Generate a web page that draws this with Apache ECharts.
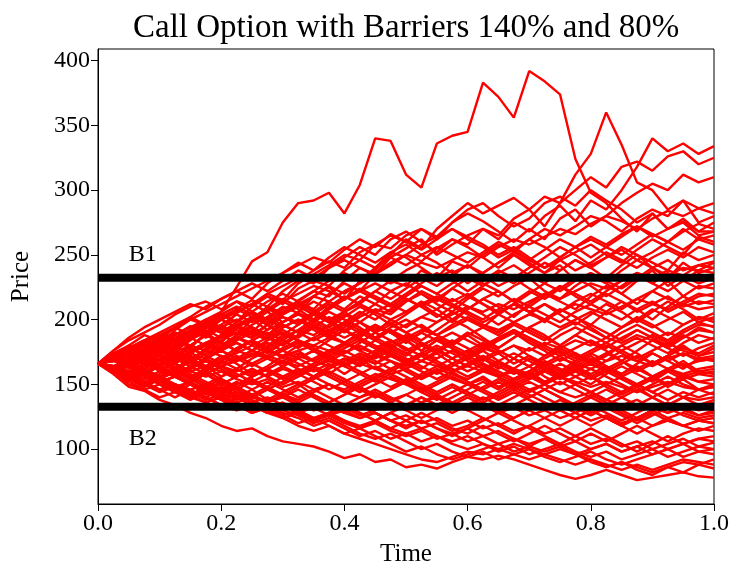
<!DOCTYPE html>
<html>
<head>
<meta charset="utf-8">
<script src="https://cdn.jsdelivr.net/npm/echarts@6/dist/echarts.min.js"></script>
<style>
html,body{margin:0;padding:0;background:#fff;}
#chart{width:734px;height:572px;}
</style>
</head>
<body>
<div id="chart"></div>
<script>
// ---- data ----
const titleText = 'Call Option with Barriers 140% and 80%';
const xLabel = 'Time';
const yLabel = 'Price';
const times = [0,0.025,0.05,0.075,0.1,0.125,0.15,0.175,0.2,0.225,
  0.25,0.275,0.3,0.325,0.35,0.375,0.4,0.425,0.45,0.475,
  0.5,0.525,0.55,0.575,0.6,0.625,0.65,0.675,0.7,0.725,
  0.75,0.775,0.8,0.825,0.85,0.875,0.9,0.925,0.95,0.975,1.0];
const xTicks = [0,0.2,0.4,0.6,0.8,1.0];
const yTicks = [100,150,200,250,300,350,400];
const barrierUpper = 232.4;
const barrierLower = 132.8;
const barrierLabels = ['B1','B2'];
const barrierLabelPos = [[0.05,240.5],[0.05,98.8]];

const p01=[166,172,168,178,185,180,192,200,206,225, 245,252,275,290,292,298,282,304,340,338, 312,302,336,342,345,383,372,356,392,384, 374,324,298,290,278,268,282,270,275,265, 268];
const p02=[166,160,168,172,165,175,180,176,188,195, 190,202,210,205,218,225,215,230,238,250, 262,255,270,280,290,282,288,294,285,272, 290,312,328,360,335,306,300,285,292,275, 280];
const p03=[166,170,176,168,180,185,178,190,196,188, 200,210,205,215,222,218,230,240,235,248, 255,262,250,258,265,270,262,275,268,280, 288,276,292,285,300,318,340,330,336,328, 334];
const p04=[166,162,170,175,168,178,185,190,182,195, 200,192,205,212,208,220,228,222,235,242, 250,245,255,262,258,270,265,278,285,295, 290,300,310,302,318,322,315,326,330,320, 325];
const p05=[166,174,170,182,178,188,195,190,200,208, 215,210,222,230,238,245,240,252,258,265, 260,270,264,275,282,276,268,260,270,262, 278,285,272,280,290,298,305,300,312,306, 310];
const p06=[166,170,165,175,182,178,190,198,192,205, 212,220,215,228,235,242,250,246,258,255, 265,270,262,275,285,290,280,272,278,290, 295,288,300,292,285,275,282,270,278,268, 275];
const p07=[166,162,158,166,172,168,176,182,178,186, 192,188,198,205,200,210,218,212,222,230, 226,238,232,245,240,250,258,252,262,270, 265,272,280,276,268,278,285,280,292,286, 290];
const p08=[166,170,178,174,184,190,186,196,204,198, 210,218,212,224,230,226,238,246,240,252, 248,240,232,238,228,236,244,250,242,236, 246,252,258,250,244,254,262,256,250,264, 260];
const p09=[166,160,164,170,176,172,168,178,184,190, 186,196,202,198,206,214,208,218,212,222, 228,220,214,224,232,226,236,242,234,228, 238,246,240,232,242,250,244,238,252,246, 250];
const p10=[166,172,178,184,180,192,200,196,206,214, 210,220,226,232,228,240,248,256,250,262, 268,260,252,262,256,248,240,250,244,236, 242,230,236,228,238,246,240,232,244,236, 240];
const p11=[166,164,158,162,170,166,174,180,176,184, 190,186,194,200,196,188,194,202,208,204, 214,220,212,206,216,224,218,226,232,222, 216,226,234,228,220,230,238,226,234,228, 232];
const p12=[166,170,162,168,160,166,174,170,178,186, 182,176,184,192,188,196,204,198,190,200, 206,212,204,198,208,216,210,202,212,220, 214,208,218,226,220,212,222,230,218,226, 224];
const p13=[166,160,166,158,164,172,168,160,168,176, 172,180,188,184,176,184,192,186,196,190, 182,190,198,206,200,194,204,212,206,198, 208,202,196,206,214,208,200,210,218,212, 215];
const p14=[166,172,168,176,184,190,186,194,200,194, 202,196,188,196,204,198,190,198,206,212, 206,214,208,200,208,216,222,214,206,212, 204,196,204,212,206,198,206,214,208,200, 205];
const p15=[166,162,156,162,154,160,168,164,156,162, 170,176,172,180,186,180,174,182,190,196, 190,184,192,200,194,186,178,186,194,200, 208,202,194,186,194,202,196,188,196,202, 198];
const p16=[166,170,176,170,178,172,180,188,182,176, 184,178,170,176,168,174,182,176,184,192, 186,180,174,182,190,184,178,186,194,188, 180,188,196,190,184,192,186,178,186,194, 190];
const p17=[166,160,168,162,156,162,170,164,172,166, 158,164,172,166,160,166,158,166,174,180, 174,168,176,184,178,170,162,170,178,172, 180,188,182,176,168,176,184,178,172,178, 182];
const p18=[166,172,178,172,180,186,192,186,194,200, 194,188,196,190,198,206,200,194,186,192, 184,176,184,178,170,176,184,190,182,176, 168,174,166,172,180,174,166,172,180,172, 175];
const p19=[166,160,154,160,152,146,152,158,150,156, 162,156,164,170,164,158,166,172,166,174, 168,162,170,176,170,164,156,162,170,164, 158,166,172,164,158,166,174,168,162,170, 168];
const p20=[166,170,164,170,176,170,164,170,176,182, 176,170,164,158,164,170,176,170,162,168, 160,154,160,166,172,166,160,154,160,168, 162,156,150,158,164,158,152,160,166,158, 160];
const p21=[166,162,168,174,168,162,156,162,168,174, 180,186,180,188,194,188,182,176,170,176, 170,164,158,164,170,176,168,162,156,150, 156,162,156,150,144,150,156,150,158,152, 154];
const p22=[166,170,176,182,188,184,192,198,204,210, 204,198,206,212,206,200,192,198,190,184, 176,182,176,170,164,170,164,158,164,156, 150,156,162,156,150,144,150,156,150,146, 148];
const p23=[166,160,154,148,154,148,142,148,154,148, 142,136,142,148,154,160,154,148,154,160, 166,160,154,160,152,146,152,146,140,146, 152,146,140,134,140,146,140,134,140,146, 142];
const p24=[166,172,166,160,166,172,178,172,166,172, 166,160,154,160,166,172,166,160,154,148, 154,148,142,148,142,136,142,148,142,136, 130,136,142,136,130,124,130,136,130,134, 136];
const p25=[166,160,166,160,154,160,154,148,142,148, 142,136,142,136,130,136,142,148,142,136, 130,124,130,136,130,124,118,124,130,124, 118,124,130,124,118,124,130,136,130,126, 130];
const p26=[166,170,164,158,164,158,152,158,164,158, 152,146,152,158,164,158,152,146,140,146, 152,146,140,134,140,134,128,134,140,146, 140,134,128,134,128,122,128,122,118,122, 124];
const p27=[166,162,156,150,156,150,144,140,146,140, 134,128,134,128,122,128,122,116,122,128, 122,116,120,114,118,124,118,112,118,124, 130,124,118,124,118,112,118,124,118,114, 118];
const p28=[166,170,164,170,164,158,164,158,152,146, 152,146,140,146,140,134,128,134,128,122, 116,122,116,110,116,122,128,122,116,110, 104,110,116,110,104,98,104,110,104,108, 110];
const p29=[166,162,158,152,146,150,144,138,142,136, 130,134,128,124,118,122,116,110,114,108, 112,106,110,104,100,104,98,102,96,100, 104,98,94,98,92,96,100,94,98,102, 100];
const p30=[166,160,150,146,150,144,140,136,140,134, 128,132,126,120,124,118,112,116,110,104, 98,102,96,92,96,100,104,98,102,108, 102,96,90,86,90,84,80,86,90,88, 92];
const p31=[166,162,156,160,154,148,152,146,140,144, 138,132,136,130,124,128,122,118,122,116, 112,116,110,106,110,104,100,104,100,96, 92,88,92,86,90,86,82,86,82,88, 85];
const p32=[166,158,148,145,138,134,128,124,118,114, 116,110,106,104,102,98,93,96,90,92, 86,88,85,90,94,92,95,92,88,84, 80,77,80,84,80,76,78,80,82,79, 78];
const p33=[166,174,180,176,186,194,200,206,212,218, 224,230,236,242,248,244,254,262,256,266, 260,254,262,270,264,258,250,256,248,240, 248,256,262,256,250,258,266,260,270,262, 265];
const p34=[166,160,166,174,180,186,180,188,196,204, 198,206,214,208,200,208,216,224,218,212, 220,228,236,230,222,230,238,232,240,248, 256,250,242,248,256,250,240,246,238,242, 245];
const p35=[166,172,180,188,184,194,202,210,216,222, 216,228,236,244,238,248,256,250,244,252, 258,250,244,236,242,234,226,232,224,218, 226,218,212,220,214,206,212,218,210,214, 212];
const p36=[166,160,154,148,154,146,140,146,152,146, 140,146,152,158,152,146,152,158,164,158, 152,158,164,170,164,170,176,170,164,172, 178,172,166,174,180,186,180,174,182,188, 185];
const p37=[166,162,154,158,150,144,150,142,148,140, 146,138,144,150,142,136,142,148,140,146, 152,144,138,144,150,156,148,154,160,152, 158,164,156,162,168,160,166,172,164,168, 170];
const p38=[166,174,170,178,186,182,190,196,190,198, 206,200,208,214,208,200,206,198,192,198, 190,196,188,182,188,180,174,180,172,166, 172,164,158,164,156,150,156,148,154,146, 150];
const p39=[166,170,176,170,164,170,176,182,176,170, 176,182,176,170,176,168,174,180,174,168, 162,168,174,166,160,166,158,152,158,150, 144,150,156,148,142,148,140,134,140,134, 138];
const p40=[166,170,164,168,162,156,162,168,162,156, 162,156,150,156,162,156,150,144,150,156, 150,144,150,156,150,144,138,144,138,132, 138,132,126,132,126,120,126,132,126,122, 120];
const p41=[166,160,164,158,152,156,150,144,148,142, 136,140,134,128,132,126,130,124,128,122, 126,120,124,118,122,116,120,114,118,112, 116,110,104,108,102,106,100,104,108,102, 105];
const p42=[166,162,168,174,168,176,170,164,170,178, 184,178,186,192,200,194,202,210,204,196, 204,212,218,212,206,200,208,216,210,218, 226,220,214,222,230,236,228,222,230,224, 228];
const p43=[166,160,154,150,144,148,142,136,140,134, 128,132,126,130,124,128,134,128,122,128, 134,140,134,140,146,152,146,154,160,166, 160,168,174,168,176,182,188,182,190,196, 195];
const p44=[166,172,168,176,172,180,186,180,188,194, 188,196,202,196,204,212,206,214,222,216, 224,232,226,234,242,236,244,252,246,254, 262,256,248,256,264,272,266,260,268,274, 270];
const p45=[166,176,184,190,196,204,210,214,208,214, 206,200,194,200,192,186,192,184,178,184, 178,172,178,170,176,168,174,166,172,164, 158,164,170,164,158,164,156,162,168,160, 162];
const p46=[166,170,176,182,176,184,190,198,204,198, 206,214,220,214,222,230,236,230,240,248, 242,250,256,250,244,252,260,254,262,256, 248,256,264,258,266,272,264,270,276,268, 268];
const p47=[166,162,170,166,174,180,174,182,188,182, 176,184,192,186,194,202,196,204,212,206, 214,222,216,224,218,226,234,228,236,244, 238,246,240,248,254,246,252,260,254,262, 258];
const p48=[166,172,166,174,182,176,184,192,186,194, 200,208,216,210,218,226,220,228,236,244, 250,258,264,270,262,256,248,254,246,240, 246,238,244,252,246,240,248,254,248,256, 252];
const p49=[166,160,166,172,178,172,166,174,180,188, 194,188,180,188,196,190,198,206,200,208, 216,210,202,210,218,212,204,212,220,228, 222,230,236,230,224,232,240,234,240,238, 244];
const p50=[166,170,174,168,176,182,188,194,200,206, 212,206,198,206,214,208,216,222,216,210, 218,226,220,228,234,228,222,214,222,216, 224,232,226,218,226,234,228,236,230,238, 236];
const p51=[166,162,158,164,170,176,170,176,182,176, 184,190,184,178,186,192,198,192,186,194, 200,194,188,196,202,196,190,198,204,212, 206,214,220,214,208,216,222,216,212,218, 220];
const p52=[166,172,176,182,188,194,188,196,202,208, 202,196,204,210,204,198,206,212,206,200, 194,202,208,216,210,204,196,204,210,204, 198,206,212,206,200,208,214,206,212,208, 210];
const p53=[166,160,154,160,154,148,142,148,142,148, 154,148,156,162,156,164,170,164,172,178, 172,180,186,180,188,194,188,196,190,184, 192,198,192,186,194,200,194,200,206,198, 202];
const p54=[166,170,164,170,178,184,178,172,180,186, 180,174,182,188,194,188,182,190,196,190, 184,176,184,190,184,178,186,192,186,180, 188,194,188,182,190,196,190,184,192,198, 194];
const p55=[166,174,170,176,182,188,194,200,194,188, 196,202,196,190,184,190,196,190,184,178, 184,190,184,178,172,178,184,190,184,178, 172,178,184,178,186,192,186,180,188,182, 186];
const p56=[166,160,164,158,164,170,164,170,176,170, 164,170,176,182,176,170,164,170,176,182, 188,182,176,170,176,182,176,170,164,170, 176,170,176,182,176,170,176,182,176,172, 178];
const p57=[166,170,174,180,174,168,174,180,186,192, 186,192,198,204,198,192,186,192,186,180, 174,180,186,180,174,180,186,192,186,180, 174,168,174,180,174,168,174,168,174,170, 172];
const p58=[166,162,156,162,168,162,156,150,156,162, 156,162,168,162,156,162,168,174,168,162, 168,174,180,174,168,162,168,174,168,162, 156,162,168,162,156,162,168,162,158,162, 164];
const p59=[166,172,178,184,190,196,202,196,190,196, 190,184,190,184,178,172,178,184,178,172, 166,172,166,160,166,172,166,160,154,160, 166,160,154,160,154,148,154,160,154,158, 156];
const p60=[166,162,168,174,180,174,168,162,168,162, 156,162,168,174,168,174,180,186,180,174, 168,174,168,162,156,162,156,150,156,162, 156,150,144,150,156,150,144,150,156,152, 150];
const p61=[166,160,156,150,156,162,156,150,144,150, 156,162,156,150,156,150,144,150,156,162, 156,150,144,150,144,138,144,150,144,150, 156,150,144,138,144,150,144,138,144,140, 144];
const p62=[166,170,176,170,164,158,164,170,164,158, 152,158,164,170,176,170,164,158,152,158, 152,146,152,158,152,146,140,146,152,146, 140,134,140,146,140,134,140,146,140,138, 140];
const p63=[166,162,158,152,158,164,158,152,146,152, 146,152,146,140,146,140,134,140,146,140, 134,140,134,128,134,140,134,140,146,140, 134,128,134,128,122,128,134,128,134,130, 132];
const p64=[166,170,166,160,154,160,154,160,154,148, 142,148,142,136,142,136,130,136,142,136, 142,148,142,136,130,136,130,124,130,136, 130,124,130,124,118,124,130,124,128,124, 126];
const p65=[166,162,156,152,146,140,146,140,134,140, 134,128,134,128,122,128,134,128,122,116, 122,128,122,116,112,118,112,106,112,118, 112,106,112,106,112,118,112,106,112,116, 114];
const p66=[166,170,164,158,152,156,150,144,138,142, 136,130,134,128,122,126,120,116,120,114, 110,114,108,112,106,110,104,108,102,98, 102,96,100,104,98,102,106,100,104,108, 106];
const p67=[166,162,158,162,156,150,146,150,144,138, 142,136,130,126,120,124,118,112,108,112, 106,100,104,98,94,98,92,96,100,94, 90,94,98,92,88,92,96,100,94,98, 96];
const p68=[166,160,156,150,146,150,144,140,134,130, 134,128,124,118,114,118,112,108,104,100, 96,92,90,94,98,96,100,96,92,96, 100,96,92,88,84,88,84,88,92,90, 88];
const p69=[166,176,186,194,200,206,212,208,216,222, 228,222,230,238,232,240,246,240,234,228, 234,226,220,214,220,212,206,212,206,200, 194,200,206,200,194,200,208,202,196,202, 200];
const p70=[166,160,152,146,140,144,138,144,138,132, 136,130,124,128,122,126,132,126,130,136, 130,136,142,136,142,148,154,148,154,160, 154,160,166,160,166,172,166,172,178,174, 180];
const p71=[166,164,160,156,150,146,140,144,140,136, 140,146,142,138,144,150,146,152,158,154, 150,156,162,158,154,160,166,162,158,164, 170,166,162,168,172,168,164,170,174,168, 170];
const p72=[166,162,158,154,160,156,152,158,164,160, 166,172,168,164,170,176,182,178,174,180, 186,192,188,194,200,196,192,198,204,200, 206,212,208,204,210,216,212,208,214,220, 218];
const p73=[166,170,174,180,186,182,188,194,190,196, 202,208,204,212,218,214,222,228,234,230, 238,244,240,246,252,248,256,262,258,264, 270,266,274,280,276,270,278,284,280,286, 282];
const p74=[166,168,174,180,178,184,190,196,200,206, 212,218,214,220,226,222,216,222,228,222, 216,210,216,210,204,198,204,198,192,186, 180,174,168,174,168,162,156,162,156,160, 158];
const p75=[166,164,168,172,168,174,170,176,172,168, 174,170,166,172,168,164,170,166,162,158, 162,156,160,154,150,154,148,152,146,150, 144,140,144,138,134,138,132,128,132,126, 128];
const p76=[166,168,164,160,164,168,172,168,164,168, 172,176,172,176,180,176,172,168,172,168, 164,168,164,160,164,160,156,160,156,152, 156,152,148,152,148,144,148,152,148,146, 148];
const p77=[166,164,170,166,162,166,160,164,160,156, 160,156,162,158,164,168,164,170,166,172, 168,174,170,176,172,178,174,180,176,182, 178,184,180,186,182,188,184,190,186,192, 190];
const p78=[166,164,160,166,162,158,162,168,164,170, 176,172,178,184,180,186,182,188,194,190, 196,202,198,204,210,206,212,208,214,220, 216,222,228,224,230,236,232,238,234,242, 240];
const p79=[166,168,172,168,162,166,160,156,160,154, 150,154,148,152,146,150,144,140,144,138, 142,136,140,134,130,134,128,132,126,130, 124,128,122,126,120,124,118,122,118,122, 120];
const p80=[166,164,160,156,152,156,150,146,150,144, 140,136,140,134,130,134,128,124,128,122, 118,122,116,112,116,110,114,108,104,108, 102,106,100,104,98,102,96,100,104,98, 100];

const paths=[p01,p02,p03,p04,p05,p06,p07,p08,p09,p10,p11,p12,p13,p14,p15,p16,p17,p18,p19,p20,
  p21,p22,p23,p24,p25,p26,p27,p28,p29,p30,p31,p32,p33,p34,p35,p36,p37,p38,p39,p40,
  p41,p42,p43,p44,p45,p46,p47,p48,p49,p50,p51,p52,p53,p54,p55,p56,p57,p58,p59,p60,
  p61,p62,p63,p64,p65,p66,p67,p68,p69,p70,p71,p72,p73,p74,p75,p76,p77,p78,p79,p80];

// ---- chart ----
const FONT = "'Liberation Serif', 'DejaVu Serif', serif";
const chart = echarts.init(document.getElementById('chart'), null, {renderer:'canvas'});

const series = paths.map(p => ({
  type:'line',
  data: times.map((t,i)=>[t,p[i]]),
  showSymbol:false,
  symbol:'none',
  silent:true,
  lineStyle:{color:'#ff0000', width:2.4},
  z:2
}));

series.push({
  type:'line', symbol:'none', silent:true,
  data:[[xTicks[0],barrierUpper],[xTicks[xTicks.length-1],barrierUpper]],
  lineStyle:{color:'#000', width:8}, z:5
});
series.push({
  type:'line', symbol:'none', silent:true,
  data:[[xTicks[0],barrierLower],[xTicks[xTicks.length-1],barrierLower]],
  lineStyle:{color:'#000', width:8}, z:5
});
series.push({
  type:'scatter', symbolSize:0, silent:true, z:6,
  itemStyle:{opacity:1},
  data: barrierLabelPos.map((pos,i)=>({value:pos, name:barrierLabels[i]})),
  label:{show:true, formatter:'{b}', position:[0,0], align:'left', verticalAlign:'bottom',
    color:'#000', opacity:1, fontFamily:FONT, fontSize:24}
});

chart.setOption({
  animation:false,
  backgroundColor:'#fff',
  title:{text:titleText, left:128, top:7,
    textStyle:{fontFamily:FONT, fontSize:33, fontWeight:'normal', color:'#000'}},
  grid:{left:98, right:20, top:49, bottom:65, show:true, borderColor:'#000', borderWidth:1, backgroundColor:'transparent'},
  xAxis:{
    type:'value', min:0, max:1, interval:0.2,
    name:xLabel, nameLocation:'middle', nameGap:38,
    nameTextStyle:{fontFamily:FONT, fontSize:25, color:'#000'},
    axisLine:{show:true, lineStyle:{color:'#000', width:1}},
    axisTick:{show:true, length:7, lineStyle:{color:'#000'}},
    axisLabel:{fontFamily:FONT, fontSize:24, color:'#000', margin:8, formatter:v=>v.toFixed(1)},
    splitLine:{show:false}
  },
  yAxis:{
    type:'value', min:57.6, max:409,
    name:yLabel, nameLocation:'middle', nameGap:64,
    nameTextStyle:{fontFamily:FONT, fontSize:25, color:'#000'},
    axisLine:{show:true, lineStyle:{color:'#000', width:1}},
    axisTick:{show:true, length:7, lineStyle:{color:'#000'}, customValues:yTicks},
    axisLabel:{fontFamily:FONT, fontSize:24, color:'#000', margin:8, customValues:yTicks, formatter:v=>String(v)},
    splitLine:{show:false}
  },
  series:series
});
</script>
</body>
</html>
